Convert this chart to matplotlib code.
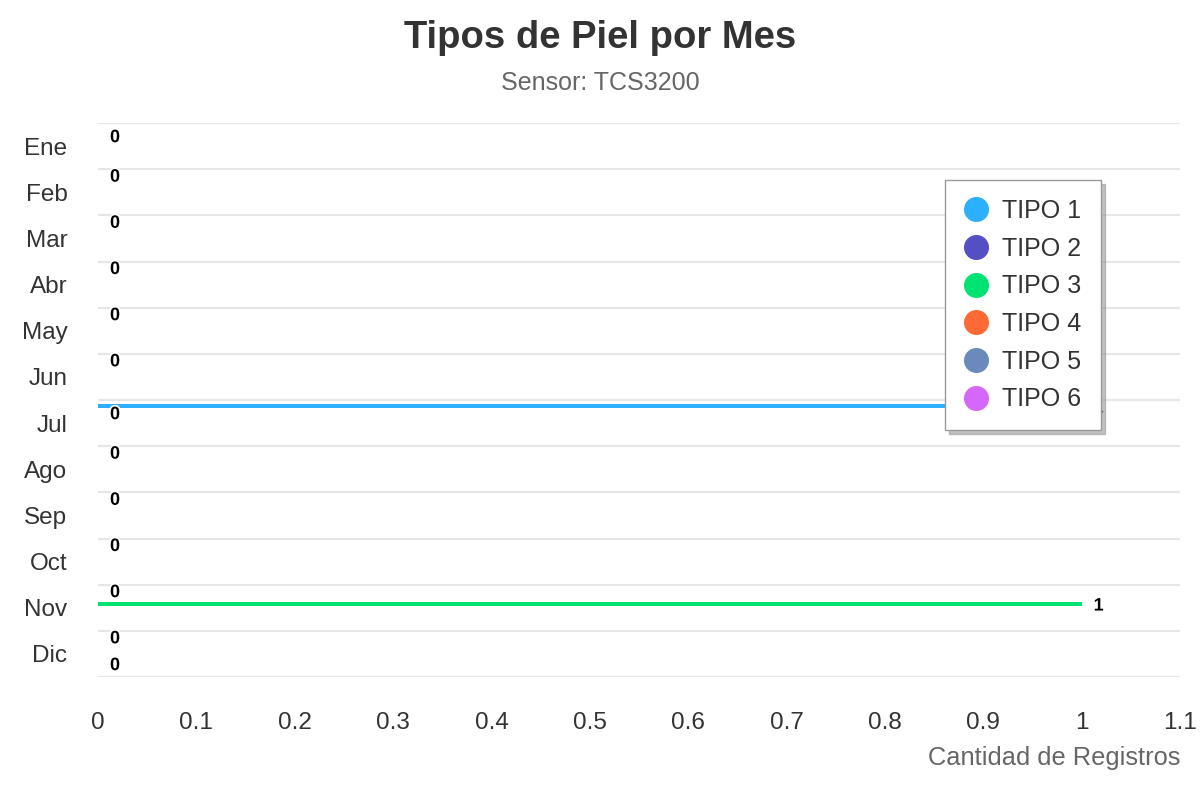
import matplotlib.pyplot as plt
from matplotlib.lines import Line2D
import matplotlib.patheffects as pe

plt.rcParams['font.family'] = ['Liberation Sans', 'DejaVu Sans']

meses = ["Ene", "Feb", "Mar", "Abr", "May", "Jun", "Jul", "Ago", "Sep", "Oct", "Nov", "Dic"]
tipos = ["TIPO 1", "TIPO 2", "TIPO 3", "TIPO 4", "TIPO 5", "TIPO 6"]
tipo1 = [0, 0, 0, 0, 0, 0, 1, 0, 0, 0, 0, 0]
tipo2 = [0, 0, 0, 0, 0, 0, 0, 0, 0, 0, 0, 0]
tipo3 = [0, 0, 0, 0, 0, 0, 0, 0, 0, 0, 1, 0]
tipo4 = [0, 0, 0, 0, 0, 0, 0, 0, 0, 0, 0, 0]
tipo5 = [0, 0, 0, 0, 0, 0, 0, 0, 0, 0, 0, 0]
tipo6 = [0, 0, 0, 0, 0, 0, 0, 0, 0, 0, 0, 0]
colores = ["#2caffe", "#544fc5", "#00e272", "#fe6a35", "#6b8abc", "#d568fb"]

# etiquetas que quedan visibles (las demas se tapan entre si)
etiquetas_visibles = [[1], [0], [0], [0], [0], [0], [0, 1], [0], [0], [0], [0, 2], [0, 4]]

series = [tipo1, tipo2, tipo3, tipo4, tipo5, tipo6]

fig = plt.figure(figsize=(12, 8), dpi=100)
ax = fig.add_axes([98 / 1200, 1 - 677 / 800, 1082 / 1200, 554 / 800])

banda = 46.17
paso = 6.7 / banda
inicio = -0.5 + 6.0 / banda
alto = 4.0 / banda

for j, valores in enumerate(series):
    pos = [i + inicio + paso * j for i in range(len(meses))]
    ax.barh(pos, valores, height=alto, color=colores[j], zorder=3)

for i, lista in enumerate(etiquetas_visibles):
    for j in lista:
        v = series[j][i]
        ax.annotate(str(v), (v, i + inicio + paso * j), xytext=(12, -2),
                    textcoords='offset pixels', ha='left', va='center',
                    fontsize=13, fontweight='bold', color='black', zorder=4,
                    path_effects=[pe.withStroke(linewidth=2.5, foreground='white')])

ax.set_xlim(0, 1.1)
ax.set_ylim(len(meses) - 0.5, -0.5)
ax.set_xticks([0, 0.1, 0.2, 0.3, 0.4, 0.5, 0.6, 0.7, 0.8, 0.9, 1, 1.1])
ax.set_xticklabels(["0", "0.1", "0.2", "0.3", "0.4", "0.5", "0.6", "0.7", "0.8", "0.9", "1", "1.1"])
ax.set_yticks(range(len(meses)))
ax.set_yticklabels(meses)
ax.tick_params(axis='both', length=0, labelsize=17.5, colors='#333333')
ax.tick_params(axis='y', pad=22)
ax.tick_params(axis='x', pad=25)
for i in range(len(meses) + 1):
    ax.axhline(i - 0.5, color='#e6e6e6', linewidth=1.5, zorder=1)
for s in ax.spines.values():
    s.set_visible(False)

fig.text(0.5, 1 - 38 / 800, "Tipos de Piel por Mes", ha='center', va='center',
         fontsize=27.5, fontweight='bold', color='#333333')
fig.text(0.5, 1 - 83 / 800, "Sensor: TCS3200", ha='center', va='center',
         fontsize=18, color='#666666')
fig.text(1180 / 1200, 1 - 758 / 800, "Cantidad de Registros", ha='right', va='center',
         fontsize=18.3, color='#666666')

handles = [Line2D([], [], marker='o', linestyle='', markersize=17, color=c) for c in colores]
leg = ax.legend(handles, tipos, loc='upper left', bbox_to_anchor=(945 / 1200, 1 - 180 / 800),
                bbox_transform=fig.transFigure, fontsize=18, labelspacing=0.55,
                handlelength=1.0, handletextpad=0.55, borderpad=0.75, borderaxespad=0,
                fancybox=False, shadow={'ox': 3, 'oy': -3, 'color': '#999999', 'alpha': 0.6},
                edgecolor='#999999', framealpha=1, labelcolor='#333333')
leg.set_zorder(10)

fig.savefig("out.png")
